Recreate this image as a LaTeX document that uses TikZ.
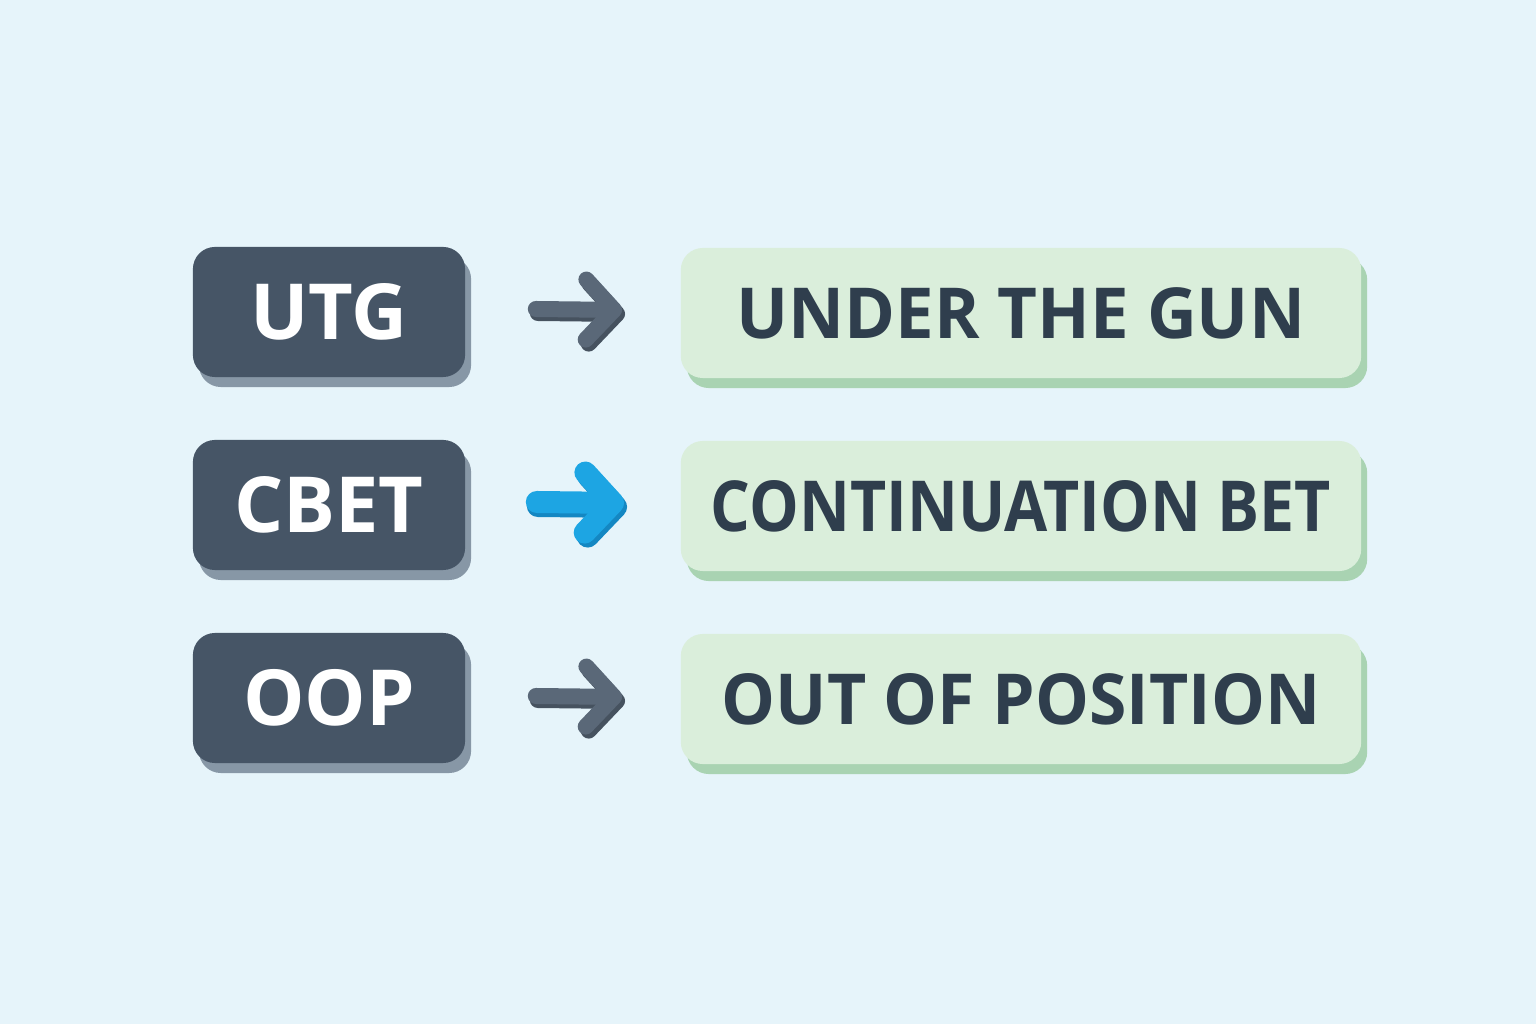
\documentclass[tikz,border=0pt]{standalone}
\usepackage{fontspec}
\setmainfont{Open Sans}
\usetikzlibrary{arrows.meta,shadows}
\definecolor{bgcol}{HTML}{E6F4FA}
\definecolor{slatecol}{HTML}{465566}
\definecolor{slateshadow}{HTML}{8797A6}
\definecolor{mintcol}{HTML}{DAEEDB}
\definecolor{mintshadow}{HTML}{A9D3B2}
\definecolor{inkcol}{HTML}{2F3E4D}
\definecolor{arrowgray}{HTML}{5A6878}
\definecolor{arrowgrayshadow}{HTML}{46525F}
\definecolor{arrowblue}{HTML}{1DA5E3}
\definecolor{arrowblueshadow}{HTML}{1487C2}
\newcommand\squeeze[2]{\scalebox{#1}[1]{#2}}
\tikzset{
  abbrbox/.style={fill=slatecol, rounded corners=0.22cm, minimum width=2.72cm, minimum height=1.3cm,
    inner sep=0pt, text=white, font=\fontsize{22}{22}\selectfont\bfseries,
    drop shadow={shadow xshift=0.06cm, shadow yshift=-0.1cm, fill=slateshadow, opacity=1}},
  fullbox/.style={fill=mintcol, rounded corners=0.22cm, minimum width=6.8cm, minimum height=1.3cm,
    inner sep=0pt, text=inkcol, font=\fontsize{20}{20}\selectfont\bfseries,
    drop shadow={shadow xshift=0.06cm, shadow yshift=-0.1cm, fill=mintshadow, opacity=1}},
  maparrow/.style={line width=0.16cm, line cap=round, -{Straight Barb[round,length=0.28cm,width=0.6cm]}},
}
\begin{document}
\begin{tikzpicture}[x=0.01cm,y=0.01cm]
  \fill[bgcol] (0,0) rectangle (1536,1024);

  % abbreviations
  \node[abbrbox] (utg) at (329,712) {UTG};
  \node[abbrbox] (cbet) at (329,519) {CBET};
  \node[abbrbox] (oop) at (329,326) {OOP};

  % meanings
  \node[fullbox] (utgfull) at (1021,711) {\squeeze{0.98}{UNDER THE GUN}};
  \node[fullbox] (cbetfull) at (1021,518) {\squeeze{0.89}{CONTINUATION BET}};
  \node[fullbox] (oopfull) at (1021,325) {\squeeze{0.965}{OUT OF POSITION}};

  % arrows with their shadows
  \draw[maparrow, arrowgrayshadow] ([xshift=0.72cm,yshift=-0.01cm]utg.east) -- ([xshift=-0.55cm,yshift=-0.01cm]utgfull.west);
  \draw[maparrow, arrowgray] ([xshift=0.70cm,yshift=0.03cm]utg.east) -- ([xshift=-0.58cm,yshift=0.03cm]utgfull.west);
  \draw[maparrow, arrowblueshadow, line width=0.22cm] ([xshift=0.72cm,yshift=-0.01cm]cbet.east) -- ([xshift=-0.53cm,yshift=-0.01cm]cbetfull.west);
  \draw[maparrow, arrowblue, line width=0.22cm] ([xshift=0.71cm,yshift=0.03cm]cbet.east) -- ([xshift=-0.56cm,yshift=0.03cm]cbetfull.west);
  \draw[maparrow, arrowgrayshadow] ([xshift=0.72cm,yshift=-0.02cm]oop.east) -- ([xshift=-0.55cm,yshift=-0.02cm]oopfull.west);
  \draw[maparrow, arrowgray] ([xshift=0.70cm,yshift=0.02cm]oop.east) -- ([xshift=-0.58cm,yshift=0.02cm]oopfull.west);
\end{tikzpicture}
\end{document}
